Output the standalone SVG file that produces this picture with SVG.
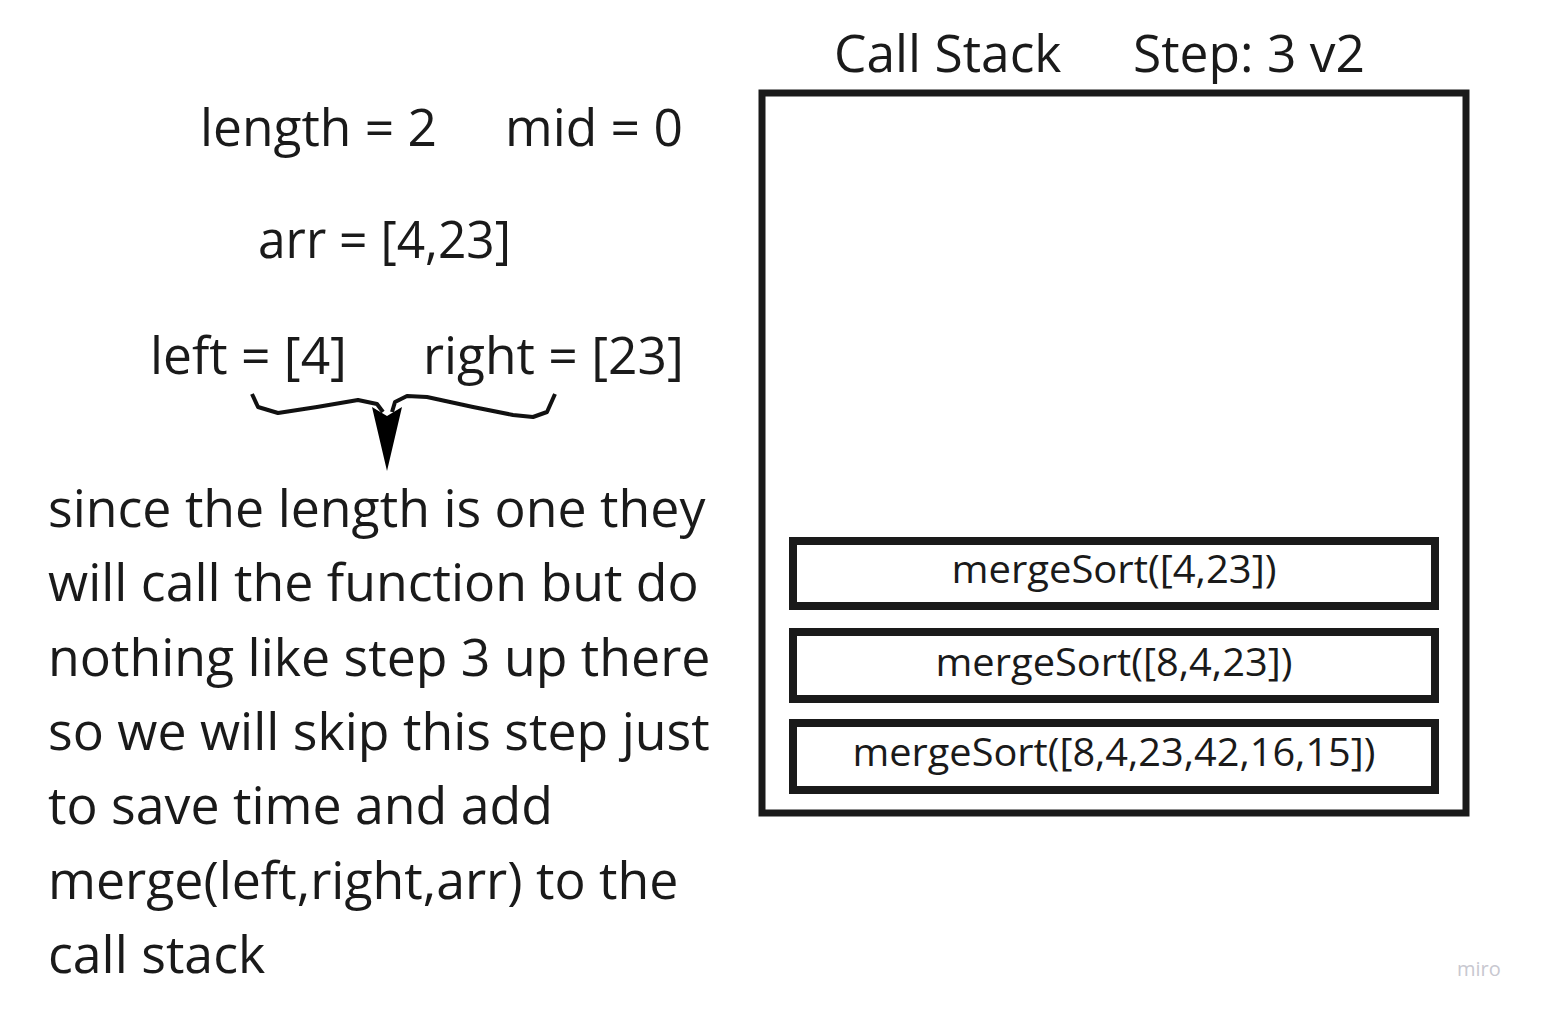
<svg xmlns="http://www.w3.org/2000/svg" width="1542" height="1013" viewBox="0 0 1542 1013">
<style>
.t{font-family:"Open Sans","Noto Sans",sans-serif;fill:#1a1a1a}
.big{font-size:51.5px}
.para{font-size:51.8px}
.box{fill:#fff;stroke:#1a1a1a;stroke-width:8}
.bt{font-family:"Open Sans","Noto Sans",sans-serif;font-size:38px;fill:#1a1a1a;text-anchor:middle}
</style>
<rect width="1542" height="1013" fill="#fff"/>
<g id="title">
<text class="t big" x="834" y="72">Call Stack</text>
<text class="t big" x="1133" y="72">Step: 3 v2</text>
</g>
<g id="vars">
<text class="t big" x="200" y="146">length = 2</text>
<text class="t big" x="505" y="146">mid = 0</text>
<text class="t big" x="258" y="258" textLength="253" lengthAdjust="spacingAndGlyphs">arr = [4,23]</text>
<text class="t big" x="150" y="374">left = [4]</text>
<text class="t big" x="423" y="374">right = [23]</text>
</g>
<g id="connectors">
<path d="M252,394 L258,407 L278,413 L317,407 L358,400 L377,404 L383,412 M392,412 L395,402 L407,396 L427,397 L473,407 L513,415 L533,417 L547,412 L555,394" fill="none" stroke="#111" stroke-width="4" stroke-linejoin="round"/>
<path d="M372,407 L387,416 L402,407 L387,471 Z" fill="#000"/>
</g>
<g id="explanation">
<text class="t para" x="48" y="527">since the length is one they</text>
<text class="t para" x="48" y="601">will call the function but do</text>
<text class="t para" x="48" y="676">nothing like step 3 up there</text>
<text class="t para" x="48" y="750">so we will skip this step just</text>
<text class="t para" x="48" y="824">to save time and add</text>
<text class="t para" x="48" y="899">merge(left,right,arr) to the</text>
<text class="t para" x="48" y="973">call stack</text>
</g>
<g id="stack">
<rect x="762" y="93" width="704" height="720" fill="none" stroke="#1a1a1a" stroke-width="7"/>
</g>
<g id="frame1">
<rect class="box" x="793" y="541" width="642" height="65"/>
<text class="bt" x="1114" y="583" textLength="325" lengthAdjust="spacingAndGlyphs">mergeSort([4,23])</text>
</g>
<g id="frame2">
<rect class="box" x="793" y="632" width="642" height="67"/>
<text class="bt" x="1114" y="676" textLength="357" lengthAdjust="spacingAndGlyphs">mergeSort([8,4,23])</text>
</g>
<g id="frame3">
<rect class="box" x="793" y="723" width="642" height="67"/>
<text class="bt" x="1114" y="766" textLength="523" lengthAdjust="spacingAndGlyphs">mergeSort([8,4,23,42,16,15])</text>
</g>
<text x="1457" y="976" font-family="Open Sans,sans-serif" font-size="20" fill="#c8c8d0">miro</text>
</svg>
